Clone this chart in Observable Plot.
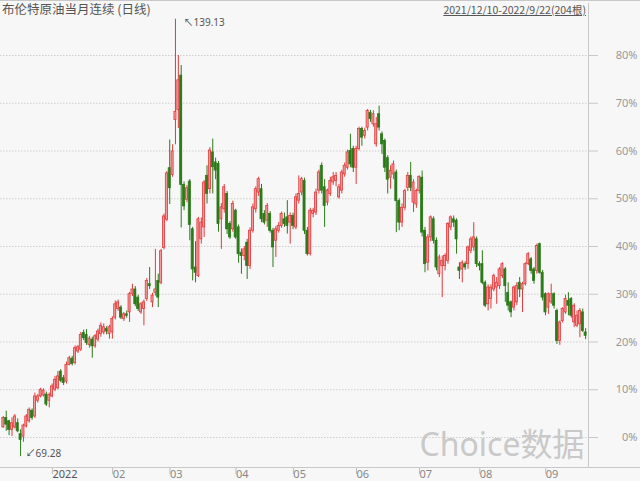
<!DOCTYPE html>
<html><head><meta charset="utf-8">
<script src="https://cdn.jsdelivr.net/npm/d3@7"></script>
<script src="https://cdn.jsdelivr.net/npm/@observablehq/plot@0.6"></script>
<style>
body{margin:0;background:#f7f7f7;}
#wrap{position:relative;width:640px;height:481px;background:#f7f7f7;overflow:hidden;}
.t{position:absolute;font-family:"Noto Sans CJK SC","Noto Sans",sans-serif;color:#555;white-space:nowrap;}
.ln{position:absolute;background:#c8c8c8;}
</style></head><body><div id="wrap"></div>
<script>
// Percent change values (OHLC) per trading day, 2021/12/10 - 2022/9/22 (204 bars)
const openP = [2.1,4.1,3.4,1.6,2.1,3.0,0.7,0.2,2.3,3.4,5.6,4.4,7.7,8.6,8.8,9.0,7.7,8.6,10.0,10.3,13.8,12.4,11.7,15.2,16.5,15.6,18.0,18.4,21.9,21.5,19.4,20.5,19.1,20.5,
21.7,22.0,22.7,21.7,22.0,25.1,26.9,27.2,24.8,25.8,26.2,30.0,31.0,29.3,26.2,26.9,29.0,32.1,28.3,30.3,32.8,32.4,39.7,45.6,56.4,55.0,66.5,68.5,75.8,52.9,49.8,53.6,
43.6,35.6,33.8,41.5,44.0,54.8,52.0,59.7,57.6,57.3,45.7,47.8,51.0,44.7,43.6,47.5,44.0,38.7,38.0,40.8,35.9,43.3,47.8,51.3,52.0,46.8,45.4,46.8,43.3,41.2,43.3,44.3,45.7,
46.1,45.0,46.4,44.0,49.6,51.3,53.7,43.3,38.4,46.8,47.1,51.7,56.9,52.4,49.2,51.0,53.4,53.7,50.3,51.7,55.1,56.5,60.0,60.4,56.5,60.4,64.6,63.2,64.9,68.0,65.6,61.4,67.7,63.5,62.1,58.5,
54.4,55.1,55.5,49.5,45.0,48.1,52.3,54.8,49.2,48.8,51.6,54.4,43.3,36.6,41.9,45.7,41.2,34.2,35.9,35.9,37.0,44.0,45.7,45.4,35.6,35.2,36.3,36.3,39.1,39.8,41.5,36.3,36.3,32.4,27.9,
29.0,31.0,31.4,31.7,33.8,35.2,30.3,28.3,27.2,28.3,32.4,31.0,32.1,36.3,37.3,35.2,34.9,40.5,34.5,30.0,27.2,28.3,30.0,26.5,20.2,24.4,26.2,28.6,29.0,24.1,23.4,23.7,26.2,22.0];
const highP = [4.4,5.5,3.6,4.1,4.8,3.9,1.6,2.8,4.8,6.2,6.0,9.3,9.0,10.3,10.2,9.5,9.3,11.2,12.8,13.8,14.2,13.0,15.8,17.0,17.0,19.2,19.3,22.0,22.5,22.6,21.2,21.0,21.6,22.7,
24.0,23.8,23.2,23.5,25.3,28.6,28.8,27.6,26.2,26.5,30.4,32.1,31.6,29.8,28.3,28.8,33.3,35.6,30.2,39.4,34.2,39.4,46.8,55.7,62.3,61.3,87.6,80.0,77.9,53.5,52.8,54.0,
44.0,41.0,46.1,46.0,53.8,56.9,60.7,62.5,58.5,57.8,49.0,53.0,51.5,45.2,49.5,47.8,44.5,39.5,40.0,41.5,43.9,48.9,52.5,54.5,53.0,47.5,49.0,47.3,43.8,44.2,45.0,47.2,47.0,
49.6,47.0,47.0,51.0,54.8,54.5,54.3,44.0,48.0,48.0,52.0,56.0,57.5,54.0,52.0,54.5,55.5,55.5,53.0,56.0,57.5,60.2,63.5,61.0,61.0,65.0,65.0,64.8,68.7,68.5,68.4,67.0,69.4,64.0,62.5,59.0,
56.9,57.9,56.0,50.0,48.9,52.0,55.5,57.6,54.0,52.0,54.8,55.8,44.0,42.5,46.4,46.2,41.8,38.2,38.0,38.5,45.0,46.4,46.4,45.8,36.6,37.0,36.8,40.1,42.0,45.0,42.0,36.8,39.1,32.8,32.0,
32.0,34.2,33.5,35.6,36.6,35.6,32.4,28.6,31.7,32.4,33.5,32.5,36.6,38.7,37.7,35.6,40.5,40.7,35.0,30.3,30.3,32.1,30.3,26.9,24.4,27.2,29.8,30.3,29.3,28.0,26.5,27.0,26.9,22.8];
const lowP = [2.0,1.3,0.4,0.2,1.8,1.0,-4.0,-1.0,2.0,3.0,3.6,4.0,7.2,8.3,8.5,6.5,6.2,8.3,9.6,10.0,11.5,10.9,11.2,15.0,15.0,15.2,17.6,18.0,20.3,19.3,18.7,16.6,18.7,20.0,
21.0,21.5,21.5,20.6,20.6,24.6,26.4,24.7,24.3,25.0,24.1,29.5,27.4,26.4,25.8,23.4,28.5,31.0,27.2,29.6,27.2,32.0,39.3,45.2,48.8,54.5,61.3,64.7,43.9,47.5,49.2,41.2,
32.8,32.4,33.5,40.5,41.9,48.9,51.0,51.0,54.0,43.0,39.4,47.0,42.5,41.5,43.0,41.5,36.5,34.2,37.0,33.1,35.2,42.8,47.0,50.5,45.0,44.5,44.0,42.8,35.6,37.7,42.8,43.8,44.0,
42.6,40.5,43.5,43.5,48.9,50.6,42.5,38.0,38.0,46.0,46.5,51.0,51.0,44.0,48.5,50.5,52.8,52.5,49.9,51.0,54.5,56.0,56.5,55.5,53.0,60.0,61.0,62.5,64.2,66.0,65.0,60.8,64.2,59.3,55.5,51.0,
52.0,54.0,42.9,43.3,44.0,47.5,51.5,51.5,47.1,48.0,51.0,42.0,34.5,34.9,41.0,40.5,34.9,33.5,29.3,34.9,36.3,43.3,44.0,38.4,33.1,32.4,35.0,35.2,38.5,39.0,35.6,34.9,32.0,27.2,26.5,
26.9,30.5,27.9,31.0,33.3,28.3,26.5,25.1,26.5,27.6,29.3,26.2,31.7,36.0,34.2,32.1,34.2,34.2,28.6,25.5,25.8,27.9,26.9,19.5,19.3,24.0,25.8,25.5,25.0,23.0,23.0,20.9,22.0,20.5];
const closeP = [4.1,2.7,1.6,3.0,4.4,1.3,-0.5,2.5,4.4,5.8,4.1,8.6,8.6,10.0,9.8,6.9,8.9,10.7,12.1,12.8,11.9,11.4,15.2,16.6,15.4,18.7,18.9,21.5,20.8,19.8,20.7,19.1,21.2,22.2,
23.4,23.1,22.2,23.1,24.8,27.9,28.3,25.1,25.8,25.5,30.0,31.0,27.9,26.9,27.9,28.3,32.8,31.7,29.7,31.0,29.3,39.0,46.3,55.3,52.2,59.9,68.2,74.8,52.9,48.4,52.2,44.5,
35.2,34.5,45.7,45.0,53.4,51.0,60.1,56.6,55.9,44.7,48.2,52.4,43.6,41.9,48.9,41.9,38.4,38.0,39.4,35.9,43.3,48.2,52.0,54.1,45.7,45.0,48.5,43.3,39.8,43.6,44.3,46.8,44.7,
44.3,46.4,44.3,50.3,51.0,54.1,43.3,38.4,47.5,47.5,51.3,55.5,51.7,48.5,51.7,53.7,54.5,54.8,52.4,55.5,56.9,59.7,57.2,56.5,60.4,64.6,62.8,64.2,68.4,66.7,67.7,65.6,64.9,61.4,56.5,54.0,
55.8,57.2,49.5,45.0,48.1,51.6,54.8,52.3,53.4,51.6,54.6,42.9,36.3,41.9,46.1,41.2,35.6,37.7,37.0,38.0,44.7,46.1,45.0,41.5,34.9,36.6,35.6,39.8,41.5,41.9,36.3,35.9,32.4,27.6,31.4,
31.4,33.8,32.4,35.2,36.3,31.7,27.6,26.2,31.4,31.7,31.0,32.1,36.3,38.4,34.9,32.8,40.1,34.5,29.3,26.2,30.0,30.0,27.6,20.2,24.1,26.9,29.0,27.6,25.5,27.6,25.5,26.5,22.3,21.3];

const pctTicks = [0,10,20,30,40,50,60,70,80];
const monthStart = [17,38,58,81,101,123,145,166,189];
const monthLabels = ["2022","02","03","04","05","06","07","08","09"];
const titleText = "布伦特原油当月连续 (日线)";
const rangeText = "2021/12/10-2022/9/22(204根)";
const extremeLabels = ["139.13","69.28"];
const watermark = "Choice数据";

const bars = openP.map((o,i)=>({i, o, h:highP[i], l:lowP[i], c:closeP[i], up: closeP[i] >= o}));
const iMax = d3.maxIndex(highP), iMin = d3.minIndex(lowP);
const UPS = "#e2393b", UPF = "#f39a9a", DN = "#2c7a1a";
const tickPos = monthStart.map(s=>s-0.6);
const labelOf = new Map(tickPos.map((p,k)=>[p, monthLabels[k]]));
const font = "'Noto Sans','Noto Sans CJK SC',sans-serif";

const chart = Plot.plot({
  width:640, height:481,
  marginLeft:0, marginRight:52, marginTop:3, marginBottom:14,
  style:{background:"#f7f7f7", fontFamily:font, fontSize:"11px"},
  x:{type:"linear", domain:[-1,204], axis:null},
  y:{domain:[-6.28,90.89], axis:null},
  marks:[
    Plot.gridY(pctTicks, {stroke:"#cfcfcf", strokeOpacity:1, strokeDasharray:"1.5,1.5"}),
    Plot.text([0], {frameAnchor:"bottom-right", text:()=>watermark, textAnchor:"end", lineAnchor:"bottom", dx:-4, dy:-12, fill:"#c9c9c9", fontSize:32, fontFamily:"'Noto Sans','Noto Sans CJK SC',sans-serif"}),
    Plot.ruleX(bars, {x:"i", y1:"l", y2:"h", stroke:d=>d.up?UPS:DN, strokeWidth:1}),
    Plot.rect(bars, {x1:d=>d.i-0.36, x2:d=>d.i+0.36, y1:"o", y2:"c", fill:d=>d.up?UPF:DN, stroke:d=>d.up?UPS:DN, strokeWidth:0.8}),
    Plot.ruleX([204], {stroke:"#c8c8c8"}),
    Plot.axisY(pctTicks, {anchor:"right", label:null, tickSize:9, tickPadding:40, textAnchor:"end", tickFormat:d=>d+"%", stroke:"#c8c8c8", fill:"#999", fontSize:11}),
    Plot.axisX(tickPos.slice(0,1), {anchor:"bottom", label:null, tickSize:7, tickPadding:-4, textAnchor:"start", dx:2, tickFormat:d=>labelOf.get(d), stroke:"#bbb", fill:"#555", fontSize:11}),
    Plot.axisX(tickPos.slice(1), {anchor:"bottom", label:null, tickSize:7, tickPadding:-4, textAnchor:"start", dx:2, tickFormat:d=>labelOf.get(d), stroke:"#bbb", fill:"#888", fontSize:11}),
    Plot.text([iMax], {x:d=>d, y:d=>highP[d], text:()=>"↖"+extremeLabels[0], textAnchor:"start", dx:8, dy:4, fill:"#555", fontSize:10}),
    Plot.text([iMin], {x:d=>d, y:d=>lowP[d], text:()=>"↙"+extremeLabels[1], textAnchor:"start", dx:5, dy:-3, fill:"#555", fontSize:10})
  ]
});
const wrap = document.getElementById("wrap");
chart.style.position="absolute"; chart.style.left="0"; chart.style.top="0";
wrap.appendChild(chart);
function add(cls, css, txt){const e=document.createElement("div");e.className=cls;e.style.cssText=css;if(txt)e.textContent=txt;wrap.appendChild(e);}
add("ln","left:0;top:0;width:640px;height:1px;");
add("ln","left:0;top:467px;width:640px;height:1px;");
add("t","left:2px;top:0px;font-size:12.5px;line-height:18px;", titleText);
add("t","right:54px;top:1px;font-size:10.5px;line-height:18px;text-decoration:underline;", rangeText);
</script></body></html>
